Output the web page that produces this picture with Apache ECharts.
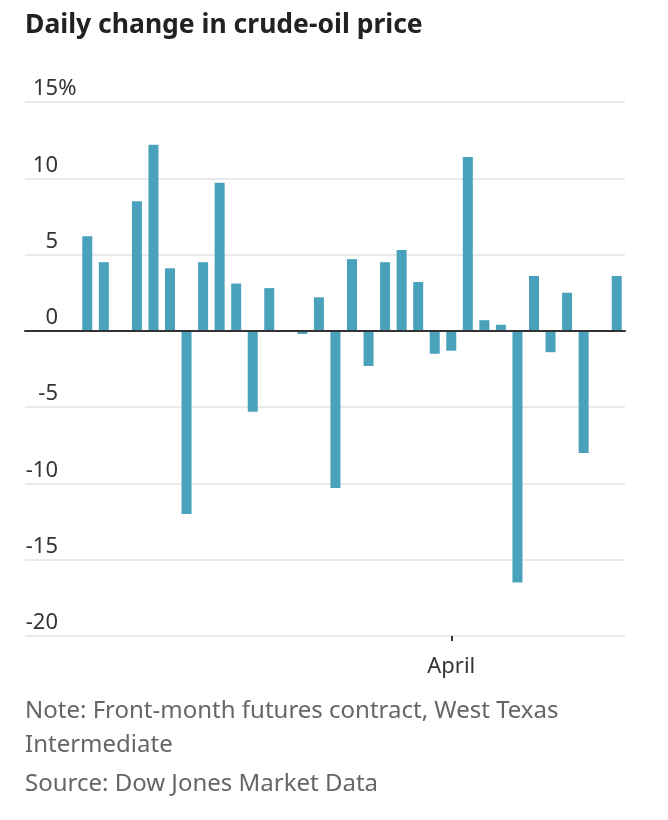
<!DOCTYPE html>
<html>
<head>
<meta charset="utf-8">
<script src="https://cdn.jsdelivr.net/npm/echarts@6/dist/echarts.min.js"></script>
<style>
  html, body { margin: 0; padding: 0; background: #fff; }
  #chart { width: 668px; height: 820px; }
</style>
</head>
<body>
<div id="chart"></div>
<script>
// trading days, March to mid-April
const days = [
  'Mar 2', 'Mar 3', 'Mar 4', 'Mar 5', 'Mar 6', 'Mar 9', 'Mar 10', 'Mar 11', 'Mar 12', 'Mar 13',
  'Mar 16', 'Mar 17', 'Mar 18', 'Mar 19', 'Mar 20', 'Mar 23', 'Mar 24', 'Mar 25', 'Mar 26', 'Mar 27',
  'Mar 30', 'Mar 31', 'Apr 1', 'Apr 2', 'Apr 3', 'Apr 6', 'Apr 7', 'Apr 8', 'Apr 9', 'Apr 10',
  'Apr 13', 'Apr 14', 'Apr 15'
];
// daily % change (null = no bar)
const change = [
  6.2, 4.5, null, 8.5, 12.2, 4.1, -12.0, 4.5, 9.7, 3.1,
  -5.3, 2.8, null, -0.2, 2.2, -10.3, 4.7, -2.3, 4.5, 5.3,
  3.2, -1.5, -1.3, 11.4, 0.7, 0.4, -16.5, 3.6, -1.4, 2.5,
  -8.0, null, 3.6
];
const yTicks = [-20, -15, -10, -5, 0, 5, 10, 15];
const aprilIndex = days.indexOf('Apr 1');

const FONT = '"Noto Sans", Roboto, sans-serif';

const myChart = echarts.init(document.getElementById('chart'));

const option = {
  animation: false,
  title: [
    {
      text: 'Daily change in crude-oil price',
      left: 25,
      top: 12,
      padding: 0,
      textStyle: { fontFamily: FONT, fontSize: 26.5, fontWeight: 'bold', color: '#222' }
    },
    {
      text: 'Note: Front-month futures contract, West Texas\nIntermediate',
      left: 25,
      top: 694,
      padding: 0,
      textStyle: { fontFamily: FONT, fontSize: 24, fontWeight: 'normal', color: '#666', lineHeight: 34 }
    },
    {
      text: 'Source: Dow Jones Market Data',
      left: 25,
      top: 767,
      padding: 0,
      textStyle: { fontFamily: FONT, fontSize: 24, fontWeight: 'normal', color: '#666', lineHeight: 34 }
    }
  ],
  grid: [
    // full-width grid for gridlines, y labels and zero line
    { left: 25, right: 43, top: 102, bottom: 184 },
    // bar area
    { left: 79, right: 43, top: 102, bottom: 184 }
  ],
  xAxis: [
    {
      type: 'value',
      gridIndex: 0,
      axisLine: { show: true, onZero: true, lineStyle: { color: '#333', width: 2 } },
      axisTick: { show: false },
      axisLabel: { show: false },
      splitLine: { show: false },
      z: 5
    },
    {
      type: 'category',
      gridIndex: 1,
      data: days,
      position: 'bottom',
      axisLine: { show: false, onZero: false },
      axisTick: {
        show: true,
        alignWithLabel: true,
        length: 5,
        interval: (i) => i === aprilIndex,
        lineStyle: { color: '#333', width: 2 }
      },
      axisLabel: {
        interval: (i) => i === aprilIndex,
        formatter: () => 'April',
        margin: 20,
        fontFamily: FONT,
        fontSize: 22,
        color: '#333'
      }
    }
  ],
  yAxis: [
    {
      type: 'value',
      gridIndex: 0,
      min: yTicks[0],
      max: yTicks[yTicks.length - 1],
      interval: 5,
      axisLine: { show: false },
      axisTick: { show: false },
      splitLine: { lineStyle: { color: '#e3e3e3', width: 1.5 } },
      axisLabel: {
        inside: true,
        margin: 0,
        align: 'left',
        verticalAlign: 'bottom',
        padding: [0, 0, 2, 0],
        fontFamily: FONT,
        fontSize: 22,
        color: '#333',
        formatter: (v) => (v === 15 ? '{m|15}{p|%}' : '{n|' + v + '}'),
        rich: {
          n: { width: 33, align: 'right', fontFamily: FONT, fontSize: 22, color: '#333' },
          m: { padding: [0, 0, 0, 8], fontFamily: FONT, fontSize: 22, color: '#333' },
          p: { fontFamily: FONT, fontSize: 22, color: '#333' }
        }
      }
    },
    {
      type: 'value',
      gridIndex: 1,
      min: yTicks[0],
      max: yTicks[yTicks.length - 1],
      interval: 5,
      show: false
    }
  ],
  series: [
    {
      type: 'bar',
      xAxisIndex: 1,
      yAxisIndex: 1,
      data: change,
      barWidth: 10,
      itemStyle: { color: '#49a1bb' },
      z: 3
    }
  ]
};

myChart.setOption(option);
</script>
</body>
</html>
